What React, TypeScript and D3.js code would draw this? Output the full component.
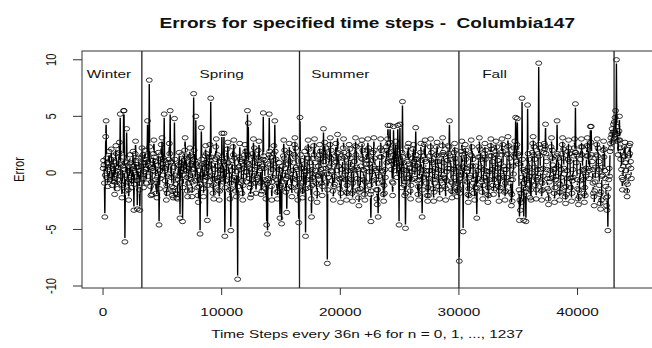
import React from "react";
import * as d3 from "d3";

// Error value for every time step n = 0..1237 (time step = 36n + 6)
const errors: number[] = [
0.4,1.1,0.7,-0.9,-3.9,-0.2,3.2,4.6,1.3,0.9,-0.4,-1.2,0.3,0.8,1.9,0.5,-0.6,-0.2,1.2,2.1,
0.6,-1.1,-0.7,0.4,1.5,1.0,-0.8,-1.9,-0.5,0.9,2.4,1.7,0.2,-1.4,-0.6,0.5,0.1,1.8,2.7,0.8,
5.2,0.7,-1.0,-0.3,-2.2,-1.1,0.6,1.4,5.5,5.5,0.3,-6.1,-1.6,-0.2,1.0,3.9,0.9,-0.8,0.2,-1.5,
-2.4,-0.6,0.8,1.6,0.9,-0.4,0.3,-1.3,-0.7,0.6,1.9,0.4,-3.3,-1.0,0.2,1.7,2.8,1.1,-0.3,0.5,
-3.2,-0.7,0.5,1.3,0.2,-1.5,-3.3,-0.9,0.6,-0.1,1.4,2.2,0.9,1.6,-0.5,-1.3,0.1,0.9,2.0,1.2,
0.3,-0.9,0.4,1.5,4.6,1.0,-0.3,0.6,8.2,2.3,0.5,-1.2,-2.0,-0.8,-1.9,0.4,1.1,0.2,1.7,2.9,
1.4,0.1,1.0,-0.6,-1.8,-0.9,-2.2,-0.4,0.7,1.8,0.3,-4.6,-1.4,0.2,-0.5,1.6,2.5,1.2,3.1,0.8,
-0.2,1.3,0.5,5.2,1.1,-0.7,0.4,-1.5,-2.4,-1.1,-1.8,-0.3,0.9,-0.1,1.2,2.6,1.7,5.5,0.9,-0.4,
1.0,-1.2,-2.0,-1.6,-2.2,-1.3,0.5,4.8,1.2,-0.2,-1.0,-1.8,-2.2,-1.9,-2.3,-0.6,0.7,-0.3,1.8,0.6,
-4.0,-0.8,0.9,0.1,1.6,0.4,-4.3,-1.3,-0.2,1.1,0.3,2.0,3.1,1.5,0.2,1.3,-0.4,-1.6,-2.1,-0.9,
0.4,-0.5,1.4,2.2,0.7,1.5,-0.6,-1.5,-2.1,-0.8,0.3,1.2,7.0,2.0,0.4,1.1,-0.7,5.0,0.8,-0.3,
0.6,-1.3,-2.0,-2.6,-1.2,0.2,-0.6,-5.4,-1.0,0.7,4.0,1.2,-0.1,0.8,-1.4,-2.1,-0.7,0.4,-0.3,1.5,
2.4,0.9,1.7,-0.4,-4.2,-1.1,0.5,-0.3,1.4,0.6,2.5,1.1,6.6,1.4,-0.2,0.7,-1.1,-1.8,-0.6,-2.3,
-1.0,0.3,-0.5,1.2,2.3,3.0,1.4,0.6,1.6,-0.7,-1.5,-0.4,-2.4,-1.6,0.2,-0.6,1.0,0.3,3.5,1.2,
0.2,-0.8,1.0,3.5,0.7,-5.6,-1.3,0.1,-0.7,1.3,2.1,0.8,2.7,0.9,-0.2,0.6,-1.5,-2.3,-0.9,-5.1,
-1.4,0.2,-0.6,1.1,2.3,1.6,2.9,0.5,1.3,-0.4,-1.6,-0.7,-2.1,0.1,-0.5,-9.4,-1.2,0.5,1.4,0.6,
2.6,1.2,0.3,1.0,-0.9,-1.8,-0.7,-2.4,-1.1,0.4,-0.3,1.6,2.5,1.0,1.9,0.1,-0.8,0.9,5.5,1.6,
4.4,0.8,-0.5,0.4,-1.3,-2.2,-1.0,-1.9,0.3,-0.6,1.7,0.9,3.0,1.4,2.2,0.3,-0.9,-0.2,-1.8,-0.6,
0.5,-0.4,1.3,2.0,0.8,2.8,1.1,0.2,-0.9,0.4,-1.9,-0.8,-1.6,0.6,1.2,5.3,1.5,0.4,1.1,-0.6,
-1.4,-2.3,-0.7,-4.6,-1.0,-5.4,-0.5,0.8,1.6,5.2,1.9,0.7,1.4,-0.3,-1.2,-2.4,-0.8,0.3,-0.4,1.7,
2.4,1.1,4.6,1.9,0.5,1.2,-0.6,-1.7,-2.3,-0.9,-1.6,0.3,0.9,-0.4,-4.0,-1.1,0.2,-1.3,-4.5,-0.8,
0.6,-0.2,1.5,2.9,1.3,2.0,0.4,-0.6,-1.7,-0.5,-3.5,-1.4,-0.3,0.8,0.1,1.8,2.6,1.0,1.7,-0.1,
-1.2,-0.4,-2.1,-1.3,0.2,-0.5,0.9,1.6,2.5,3.1,1.4,2.2,0.5,-0.6,0.3,-1.6,-2.4,-1.2,-4.4,-0.5,
0.7,4.9,1.6,0.4,1.1,-0.9,-1.6,-2.2,-0.8,-1.5,0.4,-0.2,1.9,0.2,-5.6,-1.4,0.1,-0.6,1.3,2.2,
2.9,1.3,2.1,0.2,0.9,-1.3,-0.6,-2.3,-3.9,-1.1,0.3,-0.4,1.3,2.4,1.6,3.0,0.9,0.2,-0.9,-0.2,
-1.8,-2.6,-1.0,-0.3,0.6,-0.2,1.6,2.5,1.2,1.9,0.3,-0.9,-0.1,-2.0,-1.2,0.4,3.9,1.0,1.8,2.7,
1.5,2.2,0.4,-0.8,-0.1,-8.0,-1.5,-0.4,0.5,1.4,0.6,2.5,3.1,1.3,2.0,0.2,-0.7,0.1,-1.6,-2.4,
-1.2,-0.3,-1.0,0.9,1.5,2.6,1.0,0.2,1.7,3.4,1.8,0.6,1.3,-0.5,-1.4,-0.6,-2.6,-1.8,-0.4,0.3,
-0.5,1.3,2.2,3.0,1.8,0.6,1.4,-0.6,0.1,-1.7,-2.4,-1.1,-1.8,0.2,-0.5,1.6,2.5,0.9,2.1,1.3,
0.2,-0.6,0.4,-1.8,-2.5,-0.9,-1.6,0.3,1.0,0.2,2.4,3.1,1.6,2.3,0.5,-0.5,0.3,-1.5,-2.2,-2.9,
-1.7,-0.6,-1.4,0.6,1.3,2.5,2.9,1.2,2.0,0.3,-0.6,0.2,-1.9,-2.4,-0.8,-1.5,0.4,0.8,2.0,1.1,
3.0,1.5,2.2,0.1,0.8,-1.1,-1.9,-4.3,-1.6,0.1,-0.7,1.1,1.8,0.6,3.1,2.0,1.3,0.4,-0.6,0.2,
-1.5,-2.3,-2.8,-1.5,-3.9,-0.9,0.4,-0.3,1.4,2.2,3.0,1.4,2.0,0.2,-0.8,0.1,-1.9,-2.5,-1.1,-1.8,
0.3,-0.4,1.6,2.3,0.9,2.0,3.0,4.2,2.6,1.0,1.8,2.7,4.2,1.9,1.1,0.3,1.0,-0.8,-2.0,-0.9,
4.1,1.1,0.2,2.3,1.4,2.8,0.9,1.5,-0.4,1.2,4.2,1.7,0.6,-4.6,1.3,4.3,0.8,-0.2,0.6,-1.3,
1.8,6.3,1.4,0.3,0.9,-1.1,-2.0,-0.8,-4.9,-1.8,0.2,-0.5,1.0,2.3,1.5,2.6,0.8,-0.4,0.4,-1.6,
-2.3,-1.1,0.1,-0.6,1.3,2.1,0.8,2.5,1.0,0.3,-0.5,1.2,4.0,1.6,0.6,1.2,-0.7,-1.9,-1.2,-2.4,
-0.6,0.4,-0.3,1.8,2.6,1.1,0.2,-3.9,-1.5,0.3,-0.4,1.5,2.5,1.2,2.9,1.0,0.2,-0.9,-0.2,-2.0,
-2.5,-1.3,-2.0,0.2,-0.5,1.5,2.3,3.0,1.1,1.8,0.2,0.9,-1.4,-0.6,-2.5,-1.7,-0.9,0.4,-0.3,1.6,
2.3,1.0,2.7,1.5,0.3,1.0,-1.2,-0.4,-2.3,-1.5,-0.7,0.2,-0.5,1.6,2.4,3.1,1.8,0.9,1.6,-0.4,
-1.2,-0.5,-2.4,-1.4,0.1,-0.7,1.1,0.4,2.4,1.7,2.3,4.6,1.5,0.4,1.2,-0.8,-1.6,-2.2,-0.9,-1.7,
0.3,-0.4,1.8,2.6,1.3,2.0,0.1,0.9,-1.3,-2.1,-0.9,-1.6,0.5,-1.4,-7.8,-1.8,-0.5,0.4,-0.2,1.9,
2.8,1.6,0.6,-5.2,-0.7,0.5,-0.2,1.7,2.5,1.2,2.0,0.4,-0.8,0.1,-1.9,-2.6,-1.4,-2.0,-0.4,0.6,
-0.2,1.6,2.9,1.5,2.3,0.6,1.2,-0.9,-1.8,-0.6,-2.4,-1.3,-0.2,0.6,-1.4,-4.0,-1.3,0.2,-0.5,1.4,
2.3,3.1,1.4,2.1,0.5,1.2,-0.8,-1.7,-0.6,-2.3,-1.1,0.3,-0.4,1.7,2.6,1.2,2.0,0.2,-0.7,0.1,
-1.9,-2.6,-1.3,-2.0,0.1,-0.6,1.5,2.4,3.0,1.5,2.1,0.3,1.0,-1.1,-1.9,-0.6,-1.4,0.5,-0.2,1.9,
2.8,1.6,2.3,0.4,1.1,-1.2,-0.4,-2.5,-1.6,-0.5,-1.3,0.8,0.1,1.6,3.0,1.9,2.5,0.6,-0.4,0.3,
-1.7,-2.4,-0.9,-1.6,0.3,-0.4,1.6,2.3,3.2,1.7,2.4,0.6,1.3,-0.9,-1.7,-0.6,-2.9,-1.9,-2.5,-0.6,
0.6,-0.1,2.2,1.4,2.8,1.7,4.9,2.2,1.0,2.5,4.8,1.7,0.8,1.5,-1.5,-4.2,-2.4,-3.3,-1.8,-2.6,
-0.4,6.6,1.2,0.3,-0.9,-4.2,-1.3,0.1,-0.6,-1.7,-4.3,-1.4,0.2,-0.5,6.0,1.7,0.5,1.2,-1.0,-0.3,
-2.2,-1.5,-2.4,0.0,-0.7,1.8,2.6,3.2,1.6,2.3,0.5,1.2,-1.1,-0.3,-2.3,-1.5,-0.6,0.3,-0.4,1.7,
9.7,2.5,1.5,2.2,0.3,-0.8,-1.6,-2.4,-0.9,-1.5,0.4,-0.3,1.8,2.6,2.1,2.4,4.3,1.7,1.0,0.3,
-0.5,-1.4,-2.3,-2.8,-1.6,-0.8,0.2,-0.5,1.4,2.3,3.1,1.3,2.0,0.7,-0.4,0.3,-1.8,-2.6,-1.3,-0.6,
0.4,-0.3,1.5,4.6,1.7,0.6,1.3,-0.9,-1.7,-2.4,-1.0,-1.7,0.3,-0.4,1.7,2.5,3.1,1.3,2.1,0.4,
-0.1,-1.3,-2.1,-2.7,-1.2,-1.9,0.2,-0.5,1.9,1.2,2.9,2.2,1.0,1.7,-0.5,-1.3,-0.4,-2.5,-1.8,-0.7,
0.3,-0.4,1.5,2.2,3.0,1.8,6.1,1.8,0.9,1.6,-0.6,-1.4,-2.3,-2.8,-1.5,-2.1,0.1,-0.7,1.2,2.3,
3.0,1.6,2.3,0.3,-0.6,0.2,-1.8,-2.6,-1.3,-2.0,0.4,-0.3,1.5,2.4,3.1,1.5,2.3,0.4,-0.5,0.2,
1.4,4.1,2.7,4.1,1.6,1.0,0.3,-0.9,-1.8,-2.1,-2.9,-1.6,-0.8,0.5,-0.2,1.6,2.5,3.0,1.5,2.2,
0.3,1.0,-1.1,-1.9,-2.7,-3.2,-1.7,-2.4,-0.3,0.5,-0.2,2.0,2.8,1.4,2.1,0.2,-0.5,-1.2,-2.2,-2.9,
-3.3,-2.1,-5.1,-1.4,-0.6,0.4,-0.3,1.9,2.6,3.1,2.2,3.4,3.9,2.7,3.6,4.3,3.0,4.5,3.6,4.9,
5.5,3.4,10.0,4.1,2.8,3.5,1.6,2.9,3.7,5.0,2.9,2.2,1.2,1.9,0.3,-0.4,-1.5,-0.6,0.6,1.4,
2.3,1.5,2.7,0.9,0.2,-0.8,-1.6,-2.1,-1.0,-0.3,0.6,1.5,2.4,1.7,2.6,1.0,0.4,-0.5
];

const stepEvery = 36;
const stepOffset = 6;
const xTicks = [0, 10000, 20000, 30000, 40000];
const yTicks = [-10, -5, 0, 5, 10];
const seasonNames = ["Winter", "Spring", "Summer", "Fall"];
const seasonLabelAt = [500, 10000, 20000, 33000];
const seasonBreaks = [3270, 16560, 30000, 43080];
const title = "Errors for specified time steps -  Columbia147";
const xTitle = "Time Steps every 36n +6 for n = 0, 1, ..., 1237";
const yTitle = "Error";

const W = 652;
const H = 348;
const L = 82;
const R = 652.5;
const T = 51;
const B = 288;
const SX = 1.37;
const FONT = "'Liberation Sans', Arial, Helvetica, sans-serif";
const FS = 11.2;
const GAP = 3.8;

function HText(props: { x: number; y: number; anchor?: string; size?: number; bold?: boolean; children: React.ReactNode }) {
  const { x, y, anchor = "middle", size = FS, bold = false, children } = props;
  return (
    <text
      transform={`translate(${x},${y}) scale(${SX},1)`}
      textAnchor={anchor}
      fontSize={size}
      fontWeight={bold ? "bold" : "normal"}
      fontFamily={FONT}
      fill="#111"
      style={{ whiteSpace: "pre" }}
    >
      {children}
    </text>
  );
}

function VText(props: { x: number; y: number; size?: number; children: React.ReactNode }) {
  const { x, y, size = FS, children } = props;
  return (
    <text
      transform={`translate(${x},${y}) scale(${SX},1) rotate(-90)`}
      textAnchor="middle"
      fontSize={size}
      fontFamily={FONT}
      fill="#111"
    >
      {children}
    </text>
  );
}

export default function App() {
  const pts = errors.map((v, i) => [stepEvery * i + stepOffset, v] as [number, number]);
  const xMin = d3.min(pts, (d) => d[0]) as number;
  const xMax = d3.max(pts, (d) => d[0]) as number;
  const yMin = d3.min(errors) as number;
  const yMax = d3.max(errors) as number;
  const xPad = (xMax - xMin) * 0.04;
  const yPad = (yMax - yMin) * 0.04;
  const x = d3.scaleLinear().domain([xMin - xPad, xMax + xPad]).range([L, R]);
  const y = d3.scaleLinear().domain([yMin - yPad, yMax + yPad]).range([B, T]);

  // R type = "b": segments between points, leaving a gap around each point
  const path = d3.path();
  for (let i = 0; i < pts.length - 1; i++) {
    const x1 = x(pts[i][0]);
    const y1 = y(pts[i][1]);
    const x2 = x(pts[i + 1][0]);
    const y2 = y(pts[i + 1][1]);
    const ux = (x2 - x1) / SX;
    const uy = y2 - y1;
    const len = Math.hypot(ux, uy);
    if (len <= 2 * GAP) continue;
    const fx = (ux / len) * GAP * SX;
    const fy = (uy / len) * GAP;
    path.moveTo(x1 + fx, y1 + fy);
    path.lineTo(x2 - fx, y2 - fy);
  }

  return (
    <svg
      width={W}
      height={H}
      viewBox={`0 0 ${W} ${H}`}
      style={{ position: "absolute", left: 0, top: 0, background: "#fff" }}
    >
      <rect x={0} y={0} width={W} height={H} fill="#fff" />
      <HText x={(L + R) / 2} y={28} size={13.9} bold>
        {title}
      </HText>

      <path d={path.toString()} fill="none" stroke="#000" strokeWidth={1.35} />
      {pts.map((d, i) => (
        <ellipse
          key={i}
          cx={x(d[0])}
          cy={y(d[1])}
          rx={3.0}
          ry={2.2}
          fill="none"
          stroke="#000"
          strokeWidth={0.8}
        />
      ))}

      {seasonBreaks.map((b, i) => (
        <line key={i} x1={x(b)} x2={x(b)} y1={T} y2={B} stroke="#222" strokeWidth={1.3} />
      ))}
      {seasonNames.map((s, i) => (
        <HText key={s} x={x(seasonLabelAt[i])} y={77.5}>
          {s}
        </HText>
      ))}

      <rect x={L} y={T} width={R - L} height={B - T} fill="none" stroke="#333" strokeWidth={1} />

      {xTicks.map((t) => (
        <g key={t}>
          <line x1={x(t)} x2={x(t)} y1={B} y2={B + 7} stroke="#333" strokeWidth={1} />
          <HText x={x(t)} y={315.7}>
            {String(t)}
          </HText>
        </g>
      ))}
      {yTicks.map((t) => (
        <g key={t}>
          <line x1={L - 9} x2={L} y1={y(t)} y2={y(t)} stroke="#333" strokeWidth={1} />
          <VText x={55.5} y={y(t)}>
            {String(t)}
          </VText>
        </g>
      ))}

      <HText x={(L + R) / 2} y={338}>
        {xTitle}
      </HText>
      <VText x={23.5} y={(T + B) / 2}>
        {yTitle}
      </VText>
    </svg>
  );
}
